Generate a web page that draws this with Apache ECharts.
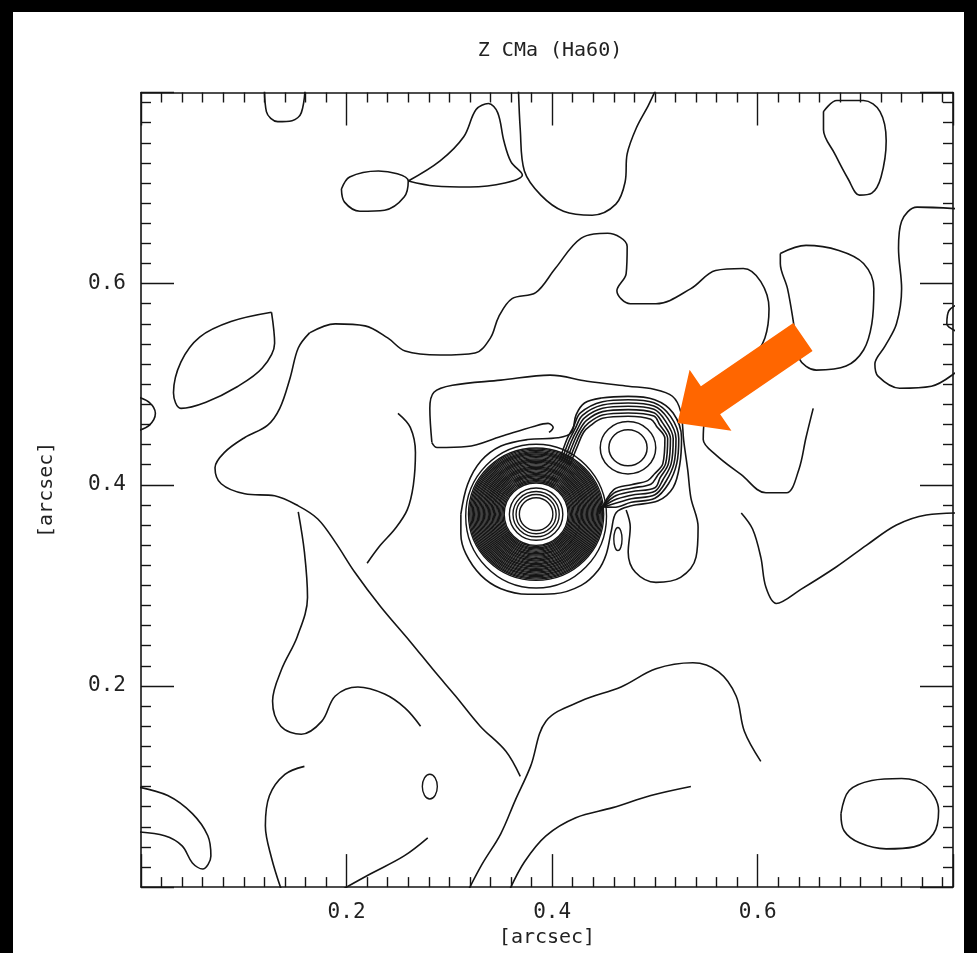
<!DOCTYPE html>
<html><head><meta charset="utf-8">
<script src="https://cdn.jsdelivr.net/npm/echarts@6/dist/echarts.min.js"></script>
<style>html,body{margin:0;padding:0;background:#fff}#c{width:977px;height:953px}</style>
</head><body><div id="c"></div>
<script>
// ---- tick labels ----
const xTickLabels = [0.2, 0.4, 0.6];
const yTickLabels = [0.2, 0.4, 0.6];
// ---- central sources ----
const primaryCenter = [0.3844, 0.3708];
const primaryInnerRings = [0.0163, 0.0195, 0.0225, 0.026];
const primaryBandRings = [0.0310,0.0322,0.0334,0.0346,0.0358,0.0370,0.0382,0.0394,0.0406,0.0418,0.0430,0.0442,0.0454,0.0466,0.0478,0.0490,0.0502,0.0514,0.0526,0.0538,0.0550,0.0562,0.0574,0.0586,0.0598,0.0610,0.0622,0.0634,0.0646,0.0658];
const primaryOuterRing = [0.0685, 0.0715];
const secondaryCenter = [0.4738, 0.4368];
const secondaryRings = [[0.0186,0.018],[0.027,0.026]];
const smallOval = [0.464, 0.346, 0.004, 0.0115];
const tinyOval = [0.281, 0.0999, 0.0073, 0.0123];
// ---- contour lines ----
const peanutOuter = [[0.3112,0.3708],[0.3178,0.4005],[0.3307,0.4236],[0.3502,0.4385],[0.3763,0.445],[0.4056,0.4467],[0.4185,0.4516],[0.4234,0.4697],[0.4315,0.4813],[0.4478,0.4862],[0.4738,0.4879],[0.4998,0.4846],[0.5177,0.4714],[0.5259,0.4467],[0.5242,0.4203],[0.5177,0.3972],[0.5031,0.3841],[0.4771,0.3791],[0.4624,0.3725],[0.4576,0.3544],[0.4527,0.3312],[0.4446,0.3148],[0.4283,0.3],[0.4022,0.2917],[0.3763,0.2911],[0.3502,0.2966],[0.3307,0.3099],[0.3161,0.3312],[0.3112,0.351],[0.3112,0.3708]];
const lobe1 = [[.407,.424],[.4145,.4455],[.4205,.457],[.4275,.4715],[.449,.4826],[.474,.4846],[.499,.4816],[.5152,.468],[.5232,.446],[.5212,.421],[.5132,.401],[.500,.3866],[.477,.3826],[.460,.3776],[.446,.3785]];
const lobe2 = [[.409,.423],[.4165,.444],[.4225,.456],[.4295,.469],[.449,.4793],[.474,.4813],[.499,.4783],[.5125,.466],[.5205,.446],[.5185,.421],[.5105,.403],[.500,.3901],[.477,.3861],[.460,.3811],[.446,.377]];
const lobe3 = [[.411,.422],[.4185,.4425],[.4245,.455],[.4315,.4665],[.449,.476],[.474,.478],[.499,.475],[.5098,.464],[.5178,.446],[.5158,.421],[.5078,.405],[.500,.3936],[.477,.3896],[.460,.3846],[.446,.3755]];
const lobe4 = [[.413,.421],[.4205,.441],[.4265,.454],[.4335,.464],[.449,.4727],[.474,.4747],[.499,.4717],[.5071,.462],[.5151,.446],[.5131,.421],[.5051,.407],[.500,.3971],[.477,.3931],[.460,.3881],[.446,.374]];
const lobe5 = [[.415,.420],[.4225,.4395],[.4285,.453],[.4355,.4615],[.449,.4694],[.474,.4714],[.499,.4684],[.5044,.460],[.5124,.446],[.5104,.421],[.5024,.409],[.496,.4006],[.477,.3966],[.460,.3916],[.446,.3725]];
const lobe6 = [[.417,.419],[.4245,.438],[.4305,.452],[.4375,.459],[.449,.4661],[.474,.4681],[.496,.4651],[.5017,.458],[.5097,.446],[.5077,.421],[.4997,.411],[.493,.4041],[.477,.4001],[.460,.3951],[.446,.371]];
const topLeftU = [[0.120,0.80],[0.122,0.771],[0.133,0.761],[0.147,0.762],[0.156,0.770],[0.160,0.80]];
const fishLobe = [[0.195,0.694],[0.203,0.706],[0.231,0.712],[0.260,0.702],[0.256,0.686],[0.237,0.673],[0.213,0.672],[0.198,0.681],[0.195,0.694]];
const mountain = [[0.260,0.702],[0.291,0.722],[0.314,0.746],[0.326,0.773],[0.338,0.779],[0.347,0.770],[0.353,0.742],[0.360,0.721],[0.371,0.708],[0.354,0.700],[0.320,0.696],[0.286,0.697],[0.260,0.702]];
const topU = [[0.367,0.80],[0.369,0.753],[0.373,0.712],[0.389,0.688],[0.411,0.672],[0.439,0.668],[0.462,0.679],[0.471,0.701],[0.473,0.729],[0.482,0.755],[0.494,0.778],[0.504,0.80]];
const topRightBlob = [[0.664,0.771],[0.677,0.782],[0.703,0.782],[0.719,0.771],[0.725,0.742],[0.720,0.706],[0.711,0.690],[0.699,0.688],[0.688,0.704],[0.675,0.729],[0.664,0.753],[0.664,0.771]];
const rightEdge = [[0.80,0.674],[0.755,0.676],[0.740,0.662],[0.737,0.635],[0.740,0.595],[0.735,0.560],[0.724,0.538],[0.714,0.520],[0.717,0.508],[0.738,0.496],[0.769,0.498],[0.80,0.518]];
const rightBlob = [[0.622,0.630],[0.647,0.638],[0.679,0.633],[0.703,0.620],[0.713,0.595],[0.711,0.560],[0.703,0.534],[0.686,0.518],[0.657,0.514],[0.640,0.526],[0.635,0.560],[0.629,0.595],[0.622,0.620],[0.622,0.630]];
const rightBump = [[0.80,0.582],[0.786,0.573],[0.784,0.560],[0.80,0.550]];
const leftLeaf = [[0.127,0.5715],[0.130,0.5407],[0.118,0.516],[0.0936,0.4975],[0.0632,0.4821],[0.0389,0.476],[0.0316,0.4914],[0.0389,0.5222],[0.0571,0.5469],[0.0875,0.5623],[0.127,0.5715]];
const leftBump = [[-0.005,0.488],[0.008,0.482],[0.014,0.471],[0.008,0.459],[-0.005,0.453]];
const centralArc = [[0.283,0.442],[0.281,0.476],[0.285,0.492],[0.303,0.499],[0.350,0.504],[0.398,0.509],[0.434,0.503],[0.474,0.498],[0.499,0.495],[0.517,0.488],[0.525,0.473],[0.528,0.444],[0.532,0.414],[0.535,0.387],[0.542,0.358],[0.540,0.328],[0.525,0.308],[0.501,0.303],[0.481,0.313],[0.474,0.333],[0.476,0.358],[0.472,0.375]];
const tongue = [[0.283,0.442],[0.288,0.437],[0.317,0.438],[0.350,0.448],[0.382,0.458],[0.396,0.461],[0.401,0.457],[0.397,0.452]];
const leftNotchDiag = [[0.164,0.551],[0.153,0.536],[0.145,0.506],[0.135,0.476],[0.123,0.459],[0.101,0.447],[0.081,0.432],[0.072,0.417],[0.078,0.401],[0.101,0.391],[0.130,0.389],[0.153,0.379],[0.172,0.366],[0.189,0.343],[0.208,0.313],[0.233,0.279],[0.262,0.244],[0.286,0.214],[0.306,0.190],[0.330,0.160],[0.355,0.135],[0.369,0.110]];
const upperNetwork = [[0.164,0.551],[0.189,0.560],[0.218,0.558],[0.240,0.546],[0.257,0.533],[0.291,0.529],[0.325,0.531],[0.340,0.546],[0.348,0.567],[0.361,0.585],[0.384,0.591],[0.403,0.615],[0.428,0.645],[0.454,0.650],[0.473,0.637],[0.472,0.610],[0.463,0.593],[0.476,0.580],[0.501,0.580],[0.535,0.595],[0.559,0.613],[0.586,0.615],[0.603,0.602],[0.611,0.575],[0.607,0.546],[0.594,0.524],[0.576,0.506],[0.560,0.486],[0.548,0.462],[0.547,0.445],[0.559,0.430],[0.584,0.410],[0.608,0.392],[0.628,0.392],[0.640,0.415],[0.647,0.447],[0.654,0.476]];
const leftOfPeak = [[0.250,0.471],[0.262,0.457],[0.267,0.432],[0.265,0.400],[0.259,0.375],[0.247,0.356],[0.233,0.340],[0.220,0.322]];
const rightMiddle = [[0.80,0.372],[0.764,0.370],[0.735,0.360],[0.706,0.340],[0.676,0.318],[0.642,0.296],[0.618,0.282],[0.608,0.298],[0.603,0.328],[0.595,0.356],[0.584,0.372]];
const lowerMiddle = [[0.318,-0.004],[0.332,0.023],[0.350,0.053],[0.364,0.086],[0.379,0.120],[0.394,0.165],[0.428,0.185],[0.467,0.199],[0.501,0.217],[0.537,0.223],[0.562,0.214],[0.579,0.190],[0.587,0.155],[0.603,0.125]];
const lowerDiag = [[0.358,-0.004],[0.373,0.025],[0.394,0.051],[0.423,0.069],[0.459,0.079],[0.496,0.091],[0.535,0.100]];
const bottomLeftDiag = [[0.193,-0.004],[0.223,0.013],[0.256,0.031],[0.279,0.049]];
const bottomLeftRise = [[0.137,-0.004],[0.127,0.029],[0.121,0.061],[0.125,0.091],[0.140,0.112],[0.159,0.120]];
const leftPeninsula = [[-0.005,0.100],[0.026,0.091],[0.050,0.073],[0.065,0.051],[0.068,0.031],[0.060,0.018],[0.050,0.024],[0.040,0.041],[0.023,0.051],[-0.005,0.055]];
const leftCentral = [[0.153,0.373],[0.159,0.333],[0.162,0.288],[0.152,0.249],[0.137,0.217],[0.128,0.185],[0.136,0.160],[0.156,0.152],[0.176,0.165],[0.189,0.190],[0.211,0.199],[0.237,0.192],[0.257,0.178],[0.272,0.160]];
const bottomRightOval = [[0.681,0.073],[0.689,0.096],[0.711,0.106],[0.740,0.108],[0.764,0.100],[0.776,0.076],[0.771,0.053],[0.752,0.040],[0.725,0.038],[0.699,0.044],[0.684,0.056],[0.681,0.073]];

const contours = [peanutOuter, lobe1, lobe2, lobe3, lobe4, lobe5, lobe6, topLeftU, fishLobe, mountain, topU,
  topRightBlob, rightEdge, rightBlob, rightBump, leftLeaf, leftBump, centralArc, tongue, leftNotchDiag,
  upperNetwork, leftOfPeak, rightMiddle, lowerMiddle, lowerDiag, bottomLeftDiag, bottomLeftRise,
  leftPeninsula, leftCentral, bottomRightOval];

const ink = '#151515';
const ellipses = [];
primaryInnerRings.forEach(r => ellipses.push([primaryCenter[0], primaryCenter[1], r, r, 1.4]));
primaryBandRings.forEach(r => ellipses.push([primaryCenter[0], primaryCenter[1], r, r, 1.35]));
ellipses.push([primaryCenter[0], primaryCenter[1] - 0.002, primaryOuterRing[0], primaryOuterRing[1], 1.4]);
secondaryRings.forEach(r => ellipses.push([secondaryCenter[0], secondaryCenter[1], r[0], r[1], 1.5]));
ellipses.push(smallOval.concat([1.4]));
ellipses.push(tinyOval.concat([1.4]));

const chart = echarts.init(document.getElementById('c'));
const FONT = 'DejaVu Sans Mono';
function axisBase(pos, show, labels) {
  return {
    type: 'value', min: 0, max: 0.79, interval: 0.2, position: pos,
    axisLine: {show: true, onZero: false, lineStyle: {color: ink, width: 1.6}},
    axisTick: {show: true, inside: true, length: 33, lineStyle: {color: ink, width: 1.4}},
    minorTick: {show: true, splitNumber: 10, length: 10, lineStyle: {color: ink, width: 1.4}},
    splitLine: {show: false}, minorSplitLine: {show: false},
    axisLabel: {show: show, margin: 15, color: '#222', fontFamily: FONT, fontSize: 21,
      formatter: v => (labels.some(t => Math.abs(t - v) < 1e-6) ? v.toFixed(1) : '')}
  };
}
const nameStyle = {color: '#222', fontFamily: FONT, fontSize: 20};
const xMain = Object.assign(axisBase('bottom', true, xTickLabels), {name: '[arcsec]', nameLocation: 'middle', nameGap: 34, nameTextStyle: nameStyle});
const xTop = axisBase('top', false, xTickLabels);
const yMain = Object.assign(axisBase('left', true, yTickLabels), {name: '[arcsec]', nameLocation: 'middle', nameGap: 84, nameTextStyle: nameStyle});
const yRight = axisBase('right', false, yTickLabels);

const series = contours.map(c => ({
  type: 'line', data: c, smooth: 0.35, showSymbol: false, silent: true, clip: true,
  lineStyle: {color: ink, width: 1.6}, xAxisIndex: 0, yAxisIndex: 0
}));
series.push({
  type: 'custom', data: ellipses, clip: true, silent: true, xAxisIndex: 0, yAxisIndex: 0,
  renderItem: (params, api) => {
    const c = api.coord([api.value(0), api.value(1)]);
    const s = api.size([api.value(2), api.value(3)]);
    return {type: 'ellipse', shape: {cx: c[0], cy: c[1], rx: s[0], ry: s[1]},
      style: {fill: null, stroke: ink, lineWidth: api.value(4)}};
  }
});

chart.setOption({
  backgroundColor: '#ffffff',
  animation: false,
  title: {text: 'Z CMa (Ha60)', left: 545, top: 36, textAlign: 'center',
    textStyle: {fontFamily: FONT, fontSize: 20, fontWeight: 'normal', color: '#222'}},
  grid: {left: 141, right: 24, top: 92.5, bottom: 61.5, containLabel: false},
  xAxis: [xMain, xTop],
  yAxis: [yMain, yRight],
  series: series
});

// annotation arrow (data-space anchor points)
const arrowTip = [0.522, 0.4615];
const arrowTail = [0.644, 0.547];
const T = chart.convertToPixel({gridIndex: 0}, arrowTip);
const C = chart.convertToPixel({gridIndex: 0}, arrowTail);
let ux = T[0] - C[0], uy = T[1] - C[1];
const L = Math.hypot(ux, uy); ux /= L; uy /= L;
const nx = -uy, ny = ux;
const headLen = 40, headHalf = 37, shaftHalf = 17;
const B = [T[0] - ux * headLen, T[1] - uy * headLen];
const pts = [
  [C[0] + nx * shaftHalf, C[1] + ny * shaftHalf],
  [B[0] + nx * shaftHalf, B[1] + ny * shaftHalf],
  [B[0] + nx * headHalf, B[1] + ny * headHalf],
  T,
  [B[0] - nx * headHalf, B[1] - ny * headHalf],
  [B[0] - nx * shaftHalf, B[1] - ny * shaftHalf],
  [C[0] - nx * shaftHalf, C[1] - ny * shaftHalf]
];
chart.setOption({
  graphic: [
    {type: 'rect', left: 0, top: 0, shape: {width: 977, height: 12}, style: {fill: '#000'}, z: 100},
    {type: 'rect', left: 0, top: 0, shape: {width: 13, height: 953}, style: {fill: '#000'}, z: 100},
    {type: 'rect', left: 964, top: 0, shape: {width: 13, height: 953}, style: {fill: '#000'}, z: 100},
    {type: 'polygon', shape: {points: pts}, style: {fill: '#ff6600'}, z: 100}
  ]
});
</script>
</body></html>
